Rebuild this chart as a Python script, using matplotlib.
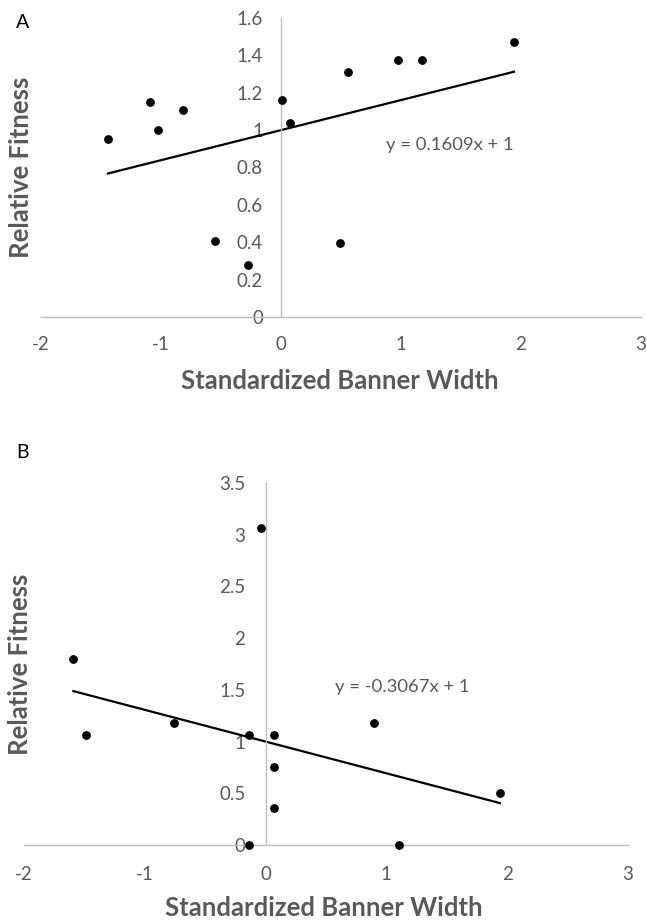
import matplotlib
matplotlib.use("Agg")
import matplotlib.pyplot as plt
import numpy as np

plt.rcParams['font.family'] = ['Lato', 'DejaVu Sans']

# Panel A data
a_x = [-1.443, -1.093, -1.027, -0.818, -0.546, -0.271, 0.010, 0.079, 0.491, 0.560, 0.973, 1.179, 1.942]
a_y = [0.954, 1.148, 1.0, 1.108, 0.409, 0.279, 1.159, 1.036, 0.398, 1.309, 1.376, 1.377, 1.472]
a_slope, a_icpt = 0.1609, 1.0
a_yticks = [0, 0.2, 0.4, 0.6, 0.8, 1, 1.2, 1.4, 1.6]
a_ytick_labels = ['0', '0.2', '0.4', '0.6', '0.8', '1', '1.2', '1.4', '1.6']

# Panel B data
b_x = [-1.591, -1.488, -0.758, -0.138, -0.138, -0.034, 0.069, 0.069, 0.069, 0.899, 1.107, 1.939]
b_y = [1.80, 1.062, 1.178, 1.062, 0.0, 3.066, 1.062, 0.758, 0.355, 1.178, 0.0, 0.506]
b_slope, b_icpt = -0.3067, 1.0
b_yticks = [0, 0.5, 1, 1.5, 2, 2.5, 3, 3.5]
b_ytick_labels = ['0', '0.5', '1', '1.5', '2', '2.5', '3', '3.5']

xticks = [-2, -1, 0, 1, 2, 3]
xtick_labels = ['-2', '-1', '0', '1', '2', '3']

gray = '#595959'
axis_gray = '#BFBFBF'

W, H = 647, 921
fig = plt.figure(figsize=(W / 100, H / 100), dpi=100)

def make_panel(px_box, xs, ys, slope, icpt, yticks, ylabels, ymax, eq_text, eq_xy,
               letter, letter_xy, ylabel_xy, xlabel_xy, xtick_pad, ytick_pad):
    x0, x1, ytop, ybot = px_box
    ax = fig.add_axes([x0 / W, 1 - ybot / H, (x1 - x0) / W, (ybot - ytop) / H])
    ax.set_xlim(-2, 3)
    ax.set_ylim(0, ymax)
    for s in ['top', 'right']:
        ax.spines[s].set_visible(False)
    ax.spines['left'].set_position(('data', 0))
    ax.spines['bottom'].set_position(('data', 0))
    for s in ['left', 'bottom']:
        ax.spines[s].set_color(axis_gray)
        ax.spines[s].set_linewidth(1.0)
    ax.set_xticks(xticks)
    ax.set_xticklabels(xtick_labels)
    ax.set_yticks(yticks)
    ax.set_yticklabels(ylabels)
    ax.tick_params(axis='x', length=0, pad=xtick_pad, labelsize=13.5, labelcolor=gray)
    ax.tick_params(axis='y', length=0, pad=ytick_pad, labelsize=13.5, labelcolor=gray)
    ax.patch.set_alpha(0)
    xs = np.array(xs)
    ax.scatter(xs, ys, s=28, color='black', zorder=3, clip_on=False)
    xl = np.array([xs.min(), xs.max()])
    ax.plot(xl, slope * xl + icpt, color='black', lw=1.6, zorder=2, clip_on=False)
    ax.text(eq_xy[0], eq_xy[1], eq_text, fontsize=13.3, color=gray, ha='left', va='center')
    fig.text(letter_xy[0] / W, 1 - letter_xy[1] / H, letter, fontsize=14,
             color='black', ha='center', va='center')
    fig.text(ylabel_xy[0] / W, 1 - ylabel_xy[1] / H, 'Relative Fitness', fontsize=18.5,
             fontweight='bold', color=gray, rotation=90, ha='center', va='center')
    fig.text(xlabel_xy[0] / W, 1 - xlabel_xy[1] / H, 'Standardized Banner Width', fontsize=18.5,
             fontweight='bold', color=gray, ha='center', va='center')
    return ax

make_panel((41, 641, 18, 317),
           a_x, a_y, a_slope, a_icpt, a_yticks, a_ytick_labels, 1.6,
           'y = 0.1609x + 1', (0.876, 0.918), 'A', (23, 22), (21, 167), (340, 381), 14, 13)

make_panel((24, 628, 483, 845),
           b_x, b_y, b_slope, b_icpt, b_yticks, b_ytick_labels, 3.5,
           'y = -0.3067x + 1', (0.578, 1.532), 'B', (22, 452), (20, 664), (324, 908), 15, 14.5)

fig.savefig('out.png', dpi=100)
